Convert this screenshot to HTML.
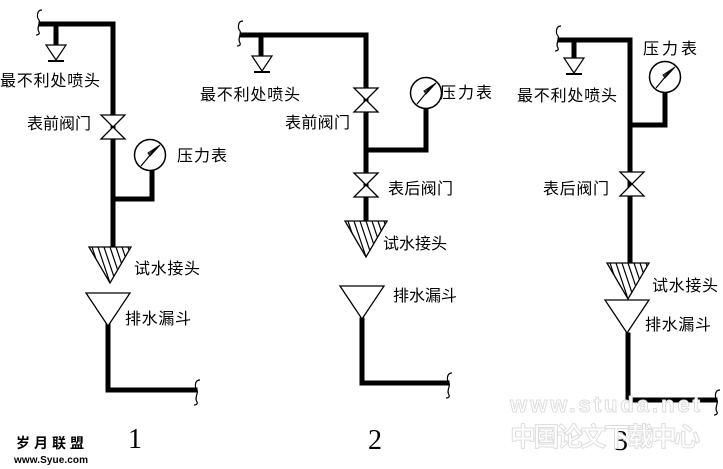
<!DOCTYPE html>
<html><head><meta charset="utf-8"><style>
html,body{margin:0;padding:0;background:#fff;}
svg{display:block}
text{font-family:"Liberation Sans","WenQuanYi Zen Hei","Noto Sans CJK SC",sans-serif;font-size:16px;fill:#000}
</style></head><body>
<svg width="723" height="469" viewBox="0 0 723 469" xmlns="http://www.w3.org/2000/svg">
<defs>
<clipPath id="tri"><path d="M-21,0 L21,0 L0,36 Z"/></clipPath>
<g id="valve"><path d="M-12,-12 L12,-12 L-12,12 L12,12 Z" fill="#fff" stroke="#000" stroke-width="1.3"/></g>
<g id="gauge"><circle r="15.5" fill="#fff" stroke="#000" stroke-width="1.5"/><path d="M-9,11 L6,-7" stroke="#000" stroke-width="1.2"/><path d="M-2,-2 L10,-10 L0,1 Z M1,-4 L10,-10 M-1,-1 L10,-10" fill="none" stroke="#000" stroke-width="1"/></g>
<g id="hatch"><path d="M-21,0 L21,0 L0,36 Z" fill="#fff" stroke="#000" stroke-width="1.3"/>
<g clip-path="url(#tri)" stroke="#000" stroke-width="1.2">
<path d="M-18,0 L-6,36 M-12,0 L0,36 M-6,0 L6,36 M0,0 L12,36 M6,0 L18,36 M12,0 L24,36 M18,0 L30,36"/>
</g></g>
<g id="funnel"><path d="M-22,0 L22,0 L0,33 Z" fill="#fff" stroke="#000" stroke-width="1.3"/></g>
<g id="spr"><path d="M-10,0 L10,0 L0,15 Z" fill="#fff" stroke="#000" stroke-width="1.2"/><path d="M-8,16 L8,16" stroke="#000" stroke-width="2"/></g>
<g id="sq"><path d="M3,-12 C-3,-12 -2,-4 0,-2 C2,0 -3,6 0,10 C1,12 -1,13 -3,13" fill="none" stroke="#000" stroke-width="1.2"/></g>
</defs>
<g stroke="#000" stroke-width="5" fill="none" stroke-linecap="square">
<path d="M41,24 L113,24 L113,247"/>
<path d="M56,24 L56,44"/>
<path d="M113,199 L152,199 L152,170"/>
<path d="M108,325 L108,390 L195,390"/>
<path d="M242,35 L366,35 L366,220"/>
<path d="M261,35 L261,55"/>
<path d="M366,150 L426,150 L426,108"/>
<path d="M362,320 L362,383 L447,383"/>
<path d="M560,40 L630,40 L630,263"/>
<path d="M574,40 L574,58"/>
<path d="M630,125 L665,125 L665,92"/>
<path d="M628,335 L628,400 L715,400"/>
</g>
<use href="#sq" x="39" y="22"/>
<use href="#spr" x="56" y="45"/>
<use href="#valve" x="113" y="127"/>
<use href="#gauge" x="150" y="155"/>
<use href="#hatch" x="110" y="247"/>
<use href="#funnel" x="108" y="293"/>
<use href="#sq" x="197" y="392"/>
<use href="#sq" x="240" y="33"/>
<use href="#spr" x="262" y="56"/>
<use href="#valve" x="366" y="100"/>
<use href="#gauge" x="426" y="93"/>
<use href="#valve" x="366" y="185"/>
<use href="#hatch" x="366" y="221"/>
<use href="#funnel" x="362" y="286"/>
<use href="#sq" x="449" y="385"/>
<use href="#sq" x="558" y="38"/>
<use href="#spr" x="574" y="58"/>
<use href="#gauge" x="665" y="77"/>
<use href="#valve" x="632" y="184"/>
<use href="#hatch" x="628" y="263"/>
<use href="#funnel" x="627" y="300"/>
<use href="#sq" x="717" y="402"/>
<text x="0" y="86" textLength="100">最不利处喷头</text>
<text x="27" y="129" textLength="64">表前阀门</text>
<text x="177" y="161" textLength="50">压力表</text>
<text x="134" y="274" textLength="66">试水接头</text>
<text x="125" y="324" textLength="66">排水漏斗</text>
<text x="200" y="100" textLength="100">最不利处喷头</text>
<text x="285" y="128" textLength="65">表前阀门</text>
<text x="440" y="98" textLength="52">压力表</text>
<text x="388" y="194" textLength="65">表后阀门</text>
<text x="383" y="249" textLength="64">试水接头</text>
<text x="393" y="301" textLength="64">排水漏斗</text>
<text x="517" y="101" textLength="100">最不利处喷头</text>
<text x="643" y="54" textLength="54">压力表</text>
<text x="543" y="194" textLength="66">表后阀门</text>
<text x="652" y="291" textLength="66">试水接头</text>
<text x="645" y="330" textLength="66">排水漏斗</text>
<text x="128" y="448" style="font-size:28px;font-family:'Liberation Serif',serif">1</text>
<text x="368" y="449" style="font-size:28px;font-family:'Liberation Serif',serif">2</text>
<text x="614" y="450" style="font-size:28px;font-family:'Liberation Serif',serif">3</text>
<text x="16" y="448" style="font-size:14px;font-weight:bold" textLength="68">岁月联盟</text>
<text x="14" y="463" style="font-size:10px;font-weight:bold" textLength="74">www.Syue.com</text>
<text x="510" y="412" style="font-size:22px;font-weight:bold;fill:#fff;stroke:#ddd;stroke-width:1" textLength="190">www.studa.net</text>
<text x="510" y="446" style="font-size:26px;font-weight:bold;fill:#fff;stroke:#ddd;stroke-width:1" textLength="190">中国论文下载中心</text>
</svg>
</body></html>
